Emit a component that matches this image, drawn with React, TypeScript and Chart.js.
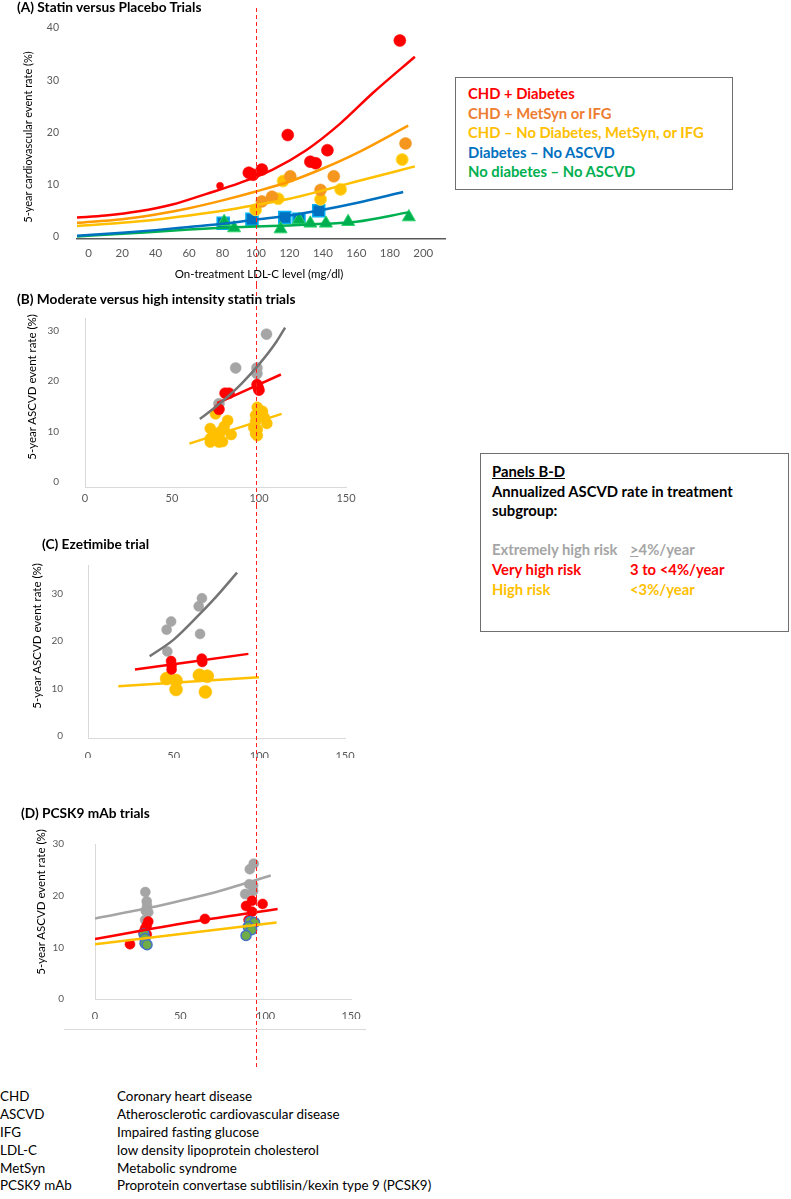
import React, { useEffect, useRef } from 'react';
import { Chart, registerables } from 'chart.js';

Chart.register(...registerables);

type P = [number, number];

const FONT = "Lato, 'Open Sans', sans-serif";
const TICK = '#595959';
const REF_LDL = 100;

// ---------- Panel A: statin vs placebo ----------
const A_X_TICKS = [0, 20, 40, 60, 80, 100, 120, 140, 160, 180, 200];
const A_Y_TICKS = [0, 10, 20, 30, 40];
const A_RED: P[] = [[95.7, 12.3], [98.2, 11.9], [103.5, 12.9], [119, 19.5], [132.5, 14.4], [135.7, 14.1], [142.7, 16.6], [186, 37.6]];
const A_RED_SMALL: P[] = [[78.5, 9.8]];
const A_ORANGE: P[] = [[103.5, 6.8], [109.6, 7.7], [120.5, 11.6], [138.6, 9.0], [146.5, 11.6], [189.4, 17.9]];
const A_YELLOW: P[] = [[99.8, 5.2], [113.3, 7.3], [116.2, 10.7], [138.6, 7.2], [150.6, 9.1], [187.4, 14.8]];
const A_BLUE: P[] = [[80.4, 2.6], [97.6, 3.4], [117.2, 3.7], [125.7, 3.4], [137.5, 5.0]];
const A_GREEN: P[] = [[81, 2.9], [86.9, 1.7], [114.7, 1.5], [125.7, 3.3], [132.5, 2.6], [141.8, 2.6], [155.1, 2.9], [191.4, 3.8]];
const A_RED_TREND_X = [-7, 10, 30, 50, 70, 90, 110, 130, 150, 170, 195];
const A_RED_TREND_Y = [3.7, 4.1, 4.9, 6.2, 8.2, 10.3, 12.9, 16.6, 21.6, 27.6, 34.5];
const A_ORANGE_TREND_X = [-7, 20, 40, 60, 80, 100, 120, 140, 160, 191];
const A_ORANGE_TREND_Y = [2.7, 3.4, 4.3, 5.5, 7.0, 8.7, 10.6, 13.1, 16.0, 21.3];
const A_YELLOW_TREND_X = [-7, 20, 40, 60, 80, 100, 120, 140, 160, 195];
const A_YELLOW_TREND_Y = [2.1, 2.7, 3.3, 4.1, 5.0, 6.1, 7.3, 8.9, 10.6, 13.5];
const A_BLUE_TREND_X = [-7, 20, 40, 60, 80, 100, 120, 140, 160, 188];
const A_BLUE_TREND_Y = [0.2, 0.8, 1.3, 1.9, 2.5, 3.3, 4.1, 5.2, 6.5, 8.6];
const A_GREEN_TREND_X = [-7, 20, 40, 60, 80, 100, 120, 140, 160, 191];
const A_GREEN_TREND_Y = [0.1, 0.6, 1.0, 1.4, 1.75, 2.0, 2.2, 2.5, 2.9, 4.7];

// ---------- Panels B-D shared ----------
const BD_X_TICKS = [0, 50, 100, 150];
const BD_Y_TICKS = [0, 10, 20, 30];

// ---------- Panel B: moderate vs high intensity statin ----------
const B_GRAY: P[] = [[104.3, 29.3], [86.6, 22.6], [98.8, 22.6], [98.8, 21.5], [77, 15.5]];
const B_RED: P[] = [[77, 14.4], [80.5, 17.6], [82.8, 17.6], [98.9, 19.3], [99.5, 18.7], [100, 18.2]];
const B_YELLOW: P[] = [[72, 10.6], [75, 13.5], [80, 11.0], [82, 12.2], [78, 10.0], [76, 9.6], [72, 8.6], [72, 7.9], [77, 7.9], [79, 8.0], [84, 9.4], [99, 14.8], [102, 14.0], [98, 13.2], [103, 12.8], [98, 12.0], [97, 10.8], [99, 10.4], [104.5, 11.6], [98, 9.6], [99, 9.2]];
const B_GRAY_TREND_X = [66, 70, 80, 90, 100, 110, 115];
const B_GRAY_TREND_Y = [12.5, 13.5, 16.3, 19.5, 23.3, 27.8, 30.6];
const B_RED_TREND_X = [76, 112.6];
const B_RED_TREND_Y = [15.6, 21.3];
const B_YELLOW_TREND_X = [60, 113];
const B_YELLOW_TREND_Y = [7.6, 13.5];

// ---------- Panel C: ezetimibe ----------
const C_GRAY: P[] = [[48.5, 24.1], [45.9, 22.4], [46.3, 17.8], [64.6, 27.3], [66.5, 29.0], [65.4, 21.5]];
const C_RED: P[] = [[48.5, 15.8], [48.8, 14.9], [48.8, 14.0], [66.4, 16.3], [66.7, 15.6]];
const C_YELLOW: P[] = [[45.9, 12.1], [51.4, 11.7], [51.4, 9.8], [65, 12.8], [69.6, 12.6], [68.5, 9.3]];
const C_GRAY_TREND_X = [36, 50, 65, 75, 87];
const C_GRAY_TREND_Y = [16.8, 20.3, 25.6, 29.4, 34.4];
const C_RED_TREND_X = [27.4, 93.6];
const C_RED_TREND_Y = [14.0, 17.3];
const C_YELLOW_TREND_X = [17.7, 99.8];
const C_YELLOW_TREND_Y = [10.5, 12.4];

// ---------- Panel D: PCSK9 mAb ----------
const D_GRAY: P[] = [[29.5, 20.7], [30.3, 18.9], [30.5, 18.0], [29.7, 17.1], [31.2, 16.8], [29.4, 15.3], [93, 26.2], [90.7, 25.1], [90.4, 22.2], [92.7, 22.0], [88, 20.3], [92.7, 20.9]];
const D_RED: P[] = [[20.5, 10.6], [31.2, 15.0], [30.3, 14.2], [29.3, 13.6], [28.5, 12.9], [30.3, 12.5], [64.4, 15.5], [92, 19.0], [88.5, 18.0], [98.2, 18.4], [92, 16.9], [90, 15.3]];
const D_GREEN: P[] = [[28.7, 12.6], [29.3, 11.7], [29.3, 10.8], [30.5, 10.5], [90.8, 15.0], [93.5, 14.8], [89.8, 14.0], [91.8, 13.4], [88.5, 12.3]];
const D_GRAY_TREND_X = [0, 30, 50, 70, 90, 103];
const D_GRAY_TREND_Y = [15.6, 17.5, 19.0, 20.6, 22.6, 23.9];
const D_RED_TREND_X = [0, 30, 60, 90, 107];
const D_RED_TREND_Y = [11.6, 13.4, 15.1, 16.6, 17.4];
const D_YELLOW_TREND_X = [0, 106.4];
const D_YELLOW_TREND_Y = [10.6, 14.8];

// ---------- Text ----------
const LEGEND_A = [
  { text: 'CHD + Diabetes', color: '#FF0000' },
  { text: 'CHD + MetSyn or IFG', color: '#ED7D31' },
  { text: 'CHD – No Diabetes, MetSyn, or IFG', color: '#FFC000' },
  { text: 'Diabetes – No ASCVD', color: '#0070C0' },
  { text: 'No diabetes – No ASCVD', color: '#00B050' },
];
const ABBREVIATIONS: [string, string][] = [
  ['CHD', 'Coronary heart disease'],
  ['ASCVD', 'Atherosclerotic cardiovascular disease'],
  ['IFG', 'Impaired fasting glucose'],
  ['LDL-C', 'low density lipoprotein cholesterol'],
  ['MetSyn', 'Metabolic syndrome'],
  ['PCSK9 mAb', 'Proprotein convertase subtilisin/kexin type 9 (PCSK9)'],
];

const RED = '#FF0000';
const ORANGE_LINE = '#FF9A00';
const ORANGE_DOT = '#F5961E';
const YELLOW = '#FFC000';
const BLUE = '#0070C0';
const GREEN = '#00B050';
const GRAY_DOT = '#A5A5A5';
const GRAY_LINE = '#747474';

const pts = (a: P[]) => a.map(([x, y]) => ({ x, y }));
const zip = (xs: number[], ys: number[]) => xs.map((x, i) => ({ x, y: ys[i] }));

const dots = (data: P[], color: string, order: number, extra: any = {}) => ({
  data: pts(data),
  showLine: false,
  pointRadius: 6,
  pointBackgroundColor: color,
  pointBorderColor: color,
  pointBorderWidth: 0.5,
  order,
  ...extra,
});
const trend = (xs: number[], ys: number[], color: string, width = 2.5) => ({
  data: zip(xs, ys),
  showLine: true,
  pointRadius: 0,
  borderColor: color,
  backgroundColor: color,
  borderWidth: width,
  cubicInterpolationMode: 'monotone',
  fill: false,
  order: 0,
});

let sharedRefX = 259;

interface Spec {
  width: number;
  height: number;
  area: { left: number; right: number; top: number; bottom: number };
  x: { min: number; max: number; ticks: number[]; labelCenter: number; size: number; color: string; bw: number };
  y: { min: number; max: number; ticks: number[]; gap: number; size: number; color: string | null };
  datasets: any[];
  ref: { y0: number; y1: number; own: boolean };
}

function build(canvas: HTMLCanvasElement, s: Spec): Chart {
  const X_AXIS_H = 20;
  const refPlugin = {
    id: 'refLine',
    afterDraw(chart: any) {
      const px = s.ref.own ? chart.scales.x.getPixelForValue(REF_LDL) : sharedRefX;
      const x = Math.round(px) + 0.5;
      const ctx = chart.ctx;
      ctx.save();
      ctx.strokeStyle = '#FF2020';
      ctx.lineWidth = 1;
      ctx.setLineDash([4, 3]);
      ctx.beginPath();
      ctx.moveTo(x, s.ref.y0);
      ctx.lineTo(x, s.ref.y1);
      ctx.stroke();
      ctx.restore();
    },
  };
  return new Chart(canvas, {
    type: 'scatter',
    data: { datasets: s.datasets },
    options: {
      responsive: false,
      animation: false,
      events: [],
      layout: {
        padding: {
          left: 0,
          top: s.area.top,
          right: s.width - s.area.right,
          bottom: s.height - s.area.bottom - X_AXIS_H,
        },
      },
      plugins: { legend: { display: false }, tooltip: { enabled: false } },
      scales: {
        x: {
          type: 'linear',
          position: 'bottom',
          min: s.x.min,
          max: s.x.max,
          afterBuildTicks: (ax: any) => {
            ax.ticks = s.x.ticks.map((v) => ({ value: v }));
          },
          afterFit: (ax: any) => {
            ax.height = X_AXIS_H;
          },
          grid: { display: false, drawTicks: true, tickLength: Math.max(0, s.x.labelCenter - s.x.size * 0.6) },
          border: { display: true, color: s.x.color, width: s.x.bw },
          ticks: { padding: 0, color: TICK, maxRotation: 0, autoSkip: false, font: { family: FONT, size: s.x.size } },
        },
        y: {
          type: 'linear',
          position: 'left',
          min: s.y.min,
          max: s.y.max,
          afterBuildTicks: (ax: any) => {
            ax.ticks = s.y.ticks.map((v) => ({ value: v }));
          },
          afterFit: (ax: any) => {
            ax.width = s.area.left;
          },
          grid: { display: false, drawTicks: true, tickLength: s.y.gap },
          border: { display: !!s.y.color, color: s.y.color || 'transparent', width: 1 },
          ticks: { padding: 0, color: TICK, autoSkip: false, font: { family: FONT, size: s.y.size } },
        },
      },
    } as any,
    plugins: [refPlugin],
  });
}

const specA = (): Spec => ({
  width: 455,
  height: 285,
  area: { left: 77, right: 451, top: 28, bottom: 239 },
  x: { min: -7, max: 213, ticks: A_X_TICKS, labelCenter: 14, size: 11.5, color: '#595959', bw: 1.5 },
  y: { min: -0.4, max: 40, ticks: A_Y_TICKS, gap: 18, size: 10.5, color: null },
  datasets: [
    trend(A_RED_TREND_X, A_RED_TREND_Y, RED),
    trend(A_ORANGE_TREND_X, A_ORANGE_TREND_Y, ORANGE_LINE),
    trend(A_YELLOW_TREND_X, A_YELLOW_TREND_Y, YELLOW),
    trend(A_BLUE_TREND_X, A_BLUE_TREND_Y, BLUE),
    trend(A_GREEN_TREND_X, A_GREEN_TREND_Y, GREEN),
    dots(A_GREEN, GREEN, 1, { pointStyle: 'triangle', pointRadius: 7.5, pointBorderColor: '#2FD36A', pointBorderWidth: 1 }),
    dots(A_RED, RED, 2),
    dots(A_RED_SMALL, RED, 2, { pointRadius: 3.5 }),
    dots(A_ORANGE, ORANGE_DOT, 3),
    dots(A_YELLOW, YELLOW, 4, { pointBorderColor: '#FFE040', pointBorderWidth: 1 }),
    dots(A_BLUE, BLUE, 5, { pointStyle: 'rect', pointRadius: 8.5, pointBorderColor: '#00B0F0', pointBorderWidth: 1.5 }),
  ],
  ref: { y0: 8, y1: 285, own: true },
});

const bdAxes = (labelCenter: number, gap: number, yMin: number, yMax: number) => ({
  x: { min: 0, max: 150, ticks: BD_X_TICKS, labelCenter, size: 11, color: '#D9D9D9', bw: 1 },
  y: { min: yMin, max: yMax, ticks: BD_Y_TICKS, gap, size: 10, color: '#D9D9D9' },
});

const specB = (): Spec => ({
  width: 380,
  height: 220,
  area: { left: 85, right: 346, top: 33, bottom: 202 },
  ...bdAxes(11, 26, -1, 32.5),
  datasets: [
    trend(B_GRAY_TREND_X, B_GRAY_TREND_Y, GRAY_LINE),
    trend(B_RED_TREND_X, B_RED_TREND_Y, RED),
    trend(B_YELLOW_TREND_X, B_YELLOW_TREND_Y, YELLOW),
    dots(B_RED, RED, 1, { pointRadius: 5.5 }),
    dots(B_GRAY, GRAY_DOT, 2, { pointRadius: 5.5 }),
    dots(B_YELLOW, YELLOW, 3, { pointRadius: 5.5 }),
  ],
  ref: { y0: 0, y1: 220, own: false },
});

const specC = (): Spec => ({
  width: 380,
  height: 285,
  area: { left: 88, right: 345, top: 60, bottom: 233 },
  ...bdAxes(18, 25, -0.4, 36),
  datasets: [
    trend(C_GRAY_TREND_X, C_GRAY_TREND_Y, GRAY_LINE),
    trend(C_RED_TREND_X, C_RED_TREND_Y, RED),
    trend(C_YELLOW_TREND_X, C_YELLOW_TREND_Y, YELLOW),
    dots(C_RED, RED, 1, { pointRadius: 5 }),
    dots(C_GRAY, GRAY_DOT, 2, { pointRadius: 5 }),
    dots(C_YELLOW, YELLOW, 3, { pointRadius: 6.5 }),
  ],
  ref: { y0: 0, y1: 285, own: false },
});

const specD = (): Spec => ({
  width: 380,
  height: 280,
  area: { left: 95, right: 351, top: 54, bottom: 209 },
  ...bdAxes(17, 31, 0, 30),
  datasets: [
    trend(D_GRAY_TREND_X, D_GRAY_TREND_Y, GRAY_DOT),
    trend(D_RED_TREND_X, D_RED_TREND_Y, RED),
    trend(D_YELLOW_TREND_X, D_YELLOW_TREND_Y, YELLOW),
    dots(D_GREEN, '#70AD47', 1, { pointRadius: 5, pointBorderColor: '#4472C4', pointBorderWidth: 1.5 }),
    dots(D_RED, RED, 2, { pointRadius: 5 }),
    dots(D_GRAY, GRAY_DOT, 3, { pointRadius: 5 }),
  ],
  ref: { y0: 0, y1: 278, own: false },
});

const abs = (left: number, top: number): React.CSSProperties => ({ position: 'absolute', left, top, whiteSpace: 'nowrap' });

function Line({ x, y, size, bold, color, lh, children }: any) {
  return (
    <div style={{ ...abs(x, y - lh / 2), fontSize: size, lineHeight: `${lh}px`, fontWeight: bold ? 700 : 400, color: color || '#000' }}>
      {children}
    </div>
  );
}

function VTitle({ cx, cy, size, children }: any) {
  return (
    <div
      style={{
        position: 'absolute',
        left: cx,
        top: cy,
        transform: 'translate(-50%,-50%) rotate(-90deg)',
        fontSize: size,
        lineHeight: 1,
        whiteSpace: 'nowrap',
        color: '#000',
      }}
    >
      {children}
    </div>
  );
}

const TITLE_SIZE = 13.7;
const LEG_SIZE = 14.8;
const ABBR_SIZE = 13.4;

export default function App() {
  const refA = useRef<HTMLCanvasElement>(null);
  const refB = useRef<HTMLCanvasElement>(null);
  const refC = useRef<HTMLCanvasElement>(null);
  const refD = useRef<HTMLCanvasElement>(null);

  useEffect(() => {
    Chart.defaults.font.family = FONT;
    const charts: Chart[] = [];
    const a = build(refA.current!, specA());
    charts.push(a);
    sharedRefX = (a.scales as any).x.getPixelForValue(REF_LDL);
    charts.push(build(refB.current!, specB()));
    charts.push(build(refC.current!, specC()));
    charts.push(build(refD.current!, specD()));
    return () => charts.forEach((c) => c.destroy());
  }, []);

  const canvasStyle = (top: number, w: number, h: number): React.CSSProperties => ({
    position: 'absolute',
    left: 0,
    top,
    width: w,
    height: h,
  });

  return (
    <div
      style={{
        position: 'absolute',
        left: 0,
        top: 0,
        width: 791,
        height: 1199,
        overflow: 'hidden',
        background: '#fff',
        fontFamily: FONT,
      }}
    >
      <canvas ref={refA} width={455} height={285} style={canvasStyle(0, 455, 285)} />
      <canvas ref={refB} width={380} height={220} style={canvasStyle(285, 380, 220)} />
      <canvas ref={refC} width={380} height={285} style={canvasStyle(505, 380, 285)} />
      <canvas ref={refD} width={380} height={280} style={canvasStyle(790, 380, 280)} />

      {/* panel titles */}
      <Line x={17} y={7} size={TITLE_SIZE} bold lh={16}>(A) Statin versus Placebo Trials</Line>
      <Line x={17} y={299} size={TITLE_SIZE} bold lh={16}>(B) Moderate versus high intensity statin trials</Line>
      <Line x={42} y={544} size={TITLE_SIZE} bold lh={16}>(C) Ezetimibe trial</Line>
      <Line x={21} y={813} size={TITLE_SIZE} bold lh={16}>(D) PCSK9 mAb trials</Line>

      {/* axis titles */}
      <VTitle cx={27} cy={137} size={11}>5-year cardiovascular event rate (%)</VTitle>
      <div style={{ position: 'absolute', left: 259, top: 274, transform: 'translate(-50%,-50%)', fontSize: 11.5, whiteSpace: 'nowrap', lineHeight: 1 }}>
        On-treatment LDL-C level (mg/dl)
      </div>
      <VTitle cx={32} cy={387} size={11.5}>5-year ASCVD event rate (%)</VTitle>
      <VTitle cx={37} cy={636} size={11.5}>5-year ASCVD event rate (%)</VTitle>
      <VTitle cx={41} cy={902} size={11.5}>5-year ASCVD event rate (%)</VTitle>

      {/* stray chart-border line under panel D */}
      <div style={{ position: 'absolute', left: 64, top: 1029, width: 302, height: 1, background: '#D9D9D9' }} />

      {/* legend A */}
      <div style={{ position: 'absolute', left: 455, top: 77, width: 278, height: 113, boxSizing: 'border-box', border: '1.5px solid #6f6f6f' }} />
      {LEGEND_A.map((l, i) => (
        <Line key={l.text} x={468} y={93.3 + i * 19.4} size={LEG_SIZE} bold lh={18} color={l.color}>
          {l.text}
        </Line>
      ))}

      {/* legend B-D */}
      <div style={{ position: 'absolute', left: 480, top: 453, width: 309, height: 179, boxSizing: 'border-box', border: '1.5px solid #6f6f6f' }} />
      <Line x={492} y={471} size={LEG_SIZE} bold lh={18}>
        <span style={{ textDecoration: 'underline' }}>Panels B-D</span>
      </Line>
      <Line x={492} y={490.7} size={LEG_SIZE} bold lh={18}>Annualized ASCVD rate in treatment</Line>
      <Line x={492} y={510} size={LEG_SIZE} bold lh={18}>subgroup:</Line>
      <Line x={492} y={549.3} size={LEG_SIZE} bold lh={18} color="#A5A5A5">Extremely high risk</Line>
      <Line x={630} y={549.3} size={LEG_SIZE} bold lh={18} color="#A5A5A5">
        <span style={{ textDecoration: 'underline' }}>&gt;</span>4%/year
      </Line>
      <Line x={492} y={569} size={LEG_SIZE} bold lh={18} color="#FF0000">Very high risk</Line>
      <Line x={630} y={569} size={LEG_SIZE} bold lh={18} color="#FF0000">3 to &lt;4%/year</Line>
      <Line x={492} y={588.7} size={LEG_SIZE} bold lh={18} color="#FFC000">High risk</Line>
      <Line x={630} y={588.7} size={LEG_SIZE} bold lh={18} color="#FFC000">&lt;3%/year</Line>

      {/* abbreviations */}
      {ABBREVIATIONS.map(([k, v], i) => (
        <React.Fragment key={k}>
          <Line x={0} y={1096.7 + i * 17.85} size={ABBR_SIZE} lh={17}>{k}</Line>
          <Line x={117} y={1096.7 + i * 17.85} size={ABBR_SIZE} lh={17}>{v}</Line>
        </React.Fragment>
      ))}
    </div>
  );
}
